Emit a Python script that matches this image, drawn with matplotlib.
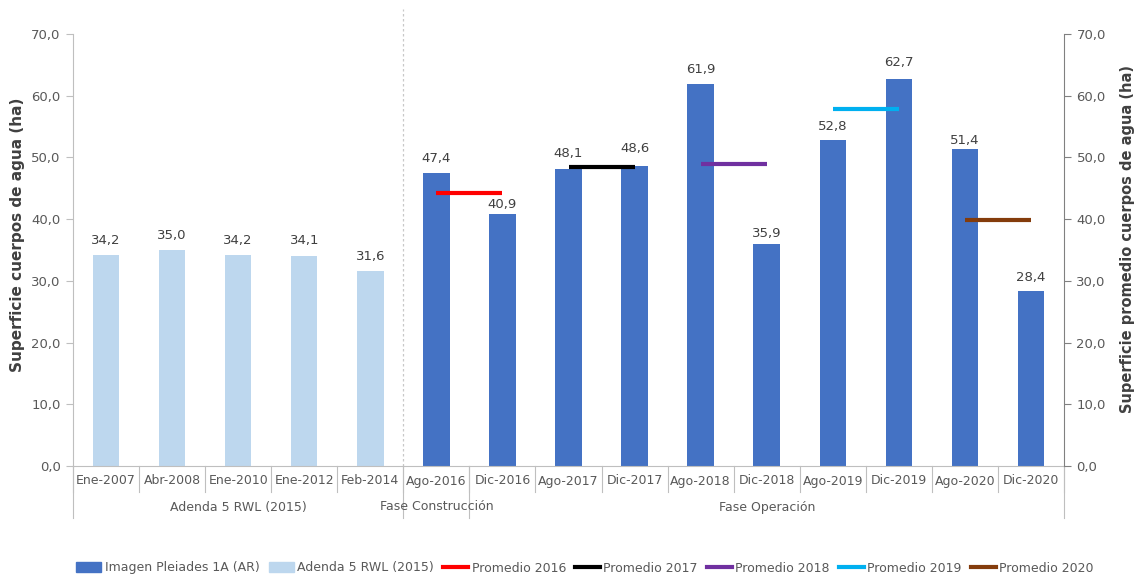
import matplotlib
matplotlib.use("Agg")
import matplotlib.pyplot as plt
from matplotlib.patches import Patch
from matplotlib.lines import Line2D
import matplotlib.transforms as mtransforms

plt.rcParams['font.family'] = ['DejaVu Sans']

# --- data ---
categories = ["Ene-2007", "Abr-2008", "Ene-2010", "Ene-2012", "Feb-2014",
              "Ago-2016", "Dic-2016", "Ago-2017", "Dic-2017", "Ago-2018",
              "Dic-2018", "Ago-2019", "Dic-2019", "Ago-2020", "Dic-2020"]
adenda_values = [34.2, 35.0, 34.2, 34.1, 31.6]
pleiades_values = [47.4, 40.9, 48.1, 48.6, 61.9, 35.9, 52.8, 62.7, 51.4, 28.4]
groups = ["Adenda 5 RWL (2015)", "Fase Construcción", "Fase Operación"]
group_sizes = [5, 1, 9]
avg_years = ["2016", "2017", "2018", "2019", "2020"]
avg_values = [44.2, 48.4, 48.9, 57.8, 39.9]
avg_colors = ["#FF0000", "#000000", "#7030A0", "#00B0F0", "#843C0C"]

dark_blue = "#4472C4"
light_blue = "#BDD7EE"
text_gray = "#595959"
axis_gray = "#BFBFBF"


def fmt(v):
    return f"{v:.1f}".replace(".", ",")


fig = plt.figure(figsize=(11.36, 5.77), dpi=100)
ax = fig.add_axes([0.0643, 0.1924, 0.8723, 0.7487])

n_ad = len(adenda_values)
x_ad = list(range(n_ad))
x_pl = list(range(n_ad, n_ad + len(pleiades_values)))

b1 = ax.bar(x_ad, adenda_values, width=0.4, color=light_blue, zorder=2)
b2 = ax.bar(x_pl, pleiades_values, width=0.4, color=dark_blue, zorder=2)

# value labels; a few sit closer to their bar to keep clear of the average lines
pad_ad = [6, 6, 6, 6, 6]
pad_pl = [6, 1.5, 6.5, 8, 6, 3, 5, 7, 1.2, 5]
for bars, vals, pads in ((b1, adenda_values, pad_ad),
                         (b2, pleiades_values, pad_pl)):
    for bar, v, p in zip(bars, vals, pads):
        ax.annotate(fmt(v), (bar.get_x() + bar.get_width() / 2, v),
                    xytext=(0, p), textcoords="offset points",
                    ha="center", va="bottom", fontsize=9.5, color="#404040")

# yearly averages spanning the two acquisitions of each year
for k, (val, col) in enumerate(zip(avg_values, avg_colors)):
    x0 = x_pl[2 * k]
    ax.plot([x0, x0 + 1], [val, val], color=col, lw=3, zorder=3,
            solid_capstyle="butt")

ax.set_xlim(-0.5, len(categories) - 0.5)
ax.set_ylim(0, 70)
yt = [0, 10, 20, 30, 40, 50, 60, 70]
ax.set_yticks(yt)
ax.set_yticklabels([fmt(v) for v in yt], fontsize=9.5, color=text_gray)
ax.tick_params(axis="y", length=5, color=axis_gray, pad=4)

ax.set_xticks([])
for s in ("top", "right"):
    ax.spines[s].set_visible(False)
ax.spines["left"].set_color(axis_gray)
ax.spines["bottom"].set_color(axis_gray)

ax.set_ylabel("Superficie cuerpos de agua (ha)", fontsize=11,
              fontweight="bold", color="#404040")
ax.yaxis.set_label_coords(-0.0485, 0.535)

# right axis
ax2 = ax.twinx()
ax2.set_ylim(0, 70)
ax2.set_yticks(yt)
ax2.set_yticklabels([fmt(v) for v in yt], fontsize=9.5, color=text_gray)
ax2.tick_params(axis="y", length=5, color="#808080", pad=4)
for s in ("top", "left", "bottom"):
    ax2.spines[s].set_visible(False)
ax2.spines["right"].set_color("#808080")
ax2.set_ylabel("Superficie promedio cuerpos de agua (ha)", fontsize=10.5,
               fontweight="bold", color="#404040")
ax2.yaxis.set_label_coords(1.0565, 0.525)

# phase divider
ax.plot([n_ad - 0.5, n_ad - 0.5], [0, 74], ls=(0, (2, 2)), color="#C8C8C8",
        lw=0.9, clip_on=False, zorder=1)

# multi-level category axis
trans = mtransforms.blended_transform_factory(ax.transData, fig.transFigure)
y_axis = 0.1924
y_row1 = 1 - 492 / 577
y_row2 = 1 - 518 / 577
for i, c in enumerate(categories):
    ax.text(i, 1 - 481 / 577, c, transform=trans, ha="center", va="center",
            fontsize=9, color=text_gray)
for i in range(len(categories) + 1):
    ax.plot([i - 0.5, i - 0.5], [y_axis, y_row1], transform=trans,
            color=axis_gray, lw=0.8, clip_on=False)
start = 0
bounds = [0]
for g, size in zip(groups, group_sizes):
    center = start + size / 2 - 0.5
    ax.text(center, 1 - 507 / 577, g, transform=trans, ha="center",
            va="center", fontsize=9, color=text_gray)
    start += size
    bounds.append(start)
for b in bounds:
    ax.plot([b - 0.5, b - 0.5], [y_axis, y_row2], transform=trans,
            color=axis_gray, lw=0.8, clip_on=False)

# legend
handles = [Patch(color=dark_blue), Patch(color=light_blue)]
labels = ["Imagen Pleiades 1A (AR)", "Adenda 5 RWL (2015)"]
for yr, col in zip(avg_years, avg_colors):
    handles.append(Line2D([], [], color=col, lw=3))
    labels.append(f"Promedio {yr}")
fig.legend(handles, labels, loc="center", bbox_to_anchor=(0.515, 1 - 568 / 577),
           ncol=7, frameon=False, fontsize=9, labelcolor=text_gray,
           handlelength=2.0, handleheight=0.8, columnspacing=0.7,
           handletextpad=0.3)

fig.savefig("out.png", dpi=100)
